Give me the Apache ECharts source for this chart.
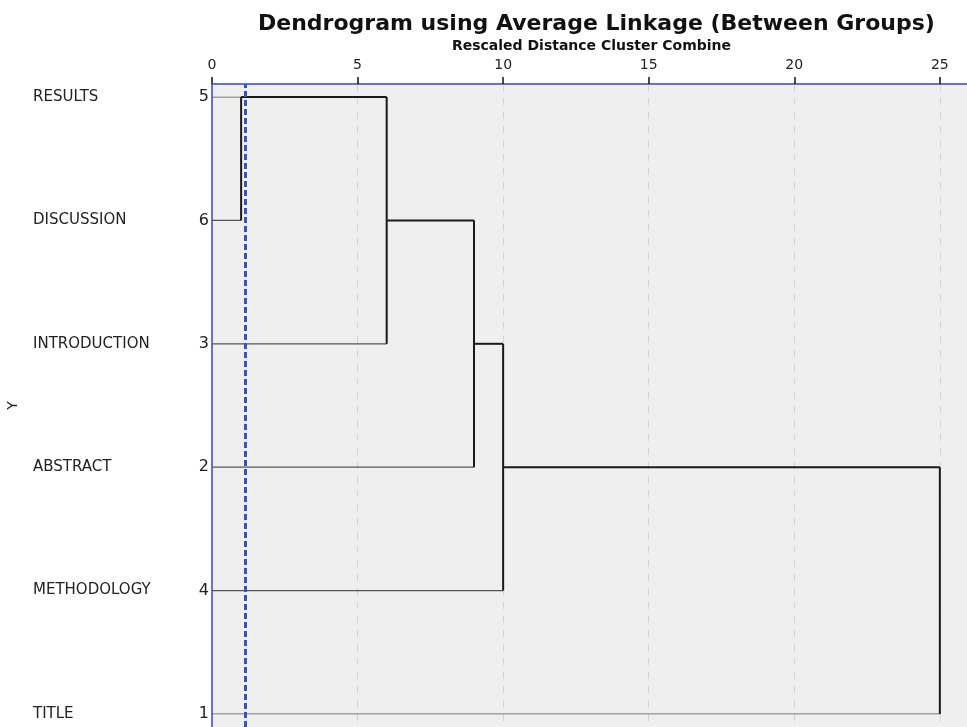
<!DOCTYPE html>
<html>
<head>
<meta charset="utf-8">
<script src="https://cdn.jsdelivr.net/npm/echarts@6/dist/echarts.min.js"></script>
<style>
  html, body { margin: 0; padding: 0; background: #fff; overflow: hidden; }
  #main { width: 967px; height: 727px; }
</style>
</head>
<body>
<div id="main"></div>
<script>
// leaves, top to bottom
const leafNames = ['RESULTS', 'DISCUSSION', 'INTRODUCTION', 'ABSTRACT', 'METHODOLOGY', 'TITLE'];
const leafCases = [5, 6, 3, 2, 4, 1];
// distance where each leaf joins its first cluster
const leafJoin = [1, 1, 6, 9, 10, 25];
// merges: distance, upper row, lower row, row the new cluster leaves from
const mergeDist = [1, 6, 9, 10, 25];
const mergeUpper = [0, 0, 1, 2, 3];
const mergeLower = [1, 2, 3, 4, 5];
const clusterRow = [0, 1, 2, 3];
const xTicks = [0, 5, 10, 15, 20, 25];
const cutDistance = 1.13;

const chart = echarts.init(document.getElementById('main'));
const FONT = 'DejaVu Sans';

function seg(points, leaf) {
  return {
    type: 'line',
    xAxisIndex: 1,
    yAxisIndex: 1,
    data: points,
    symbol: 'none',
    silent: true,
    lineStyle: leaf ? { color: '#555', width: 1.2 } : { color: '#1a1a1a', width: 2 }
  };
}

const series = [];
leafJoin.forEach((d, i) => series.push(seg([[0, i], [d, i]], true)));
mergeDist.forEach((d, i) => series.push(seg([[d, mergeUpper[i]], [d, mergeLower[i]]], false)));
clusterRow.forEach((r, i) => series.push(seg([[mergeDist[i], r], [mergeDist[i + 1], r]], false)));

// cut line across the whole plot
series.push({
  type: 'line',
  xAxisIndex: 0,
  yAxisIndex: 0,
  data: [],
  markLine: {
    silent: true,
    symbol: ['none', 'none'],
    label: { show: false },
    lineStyle: { color: '#3553c4', width: 3, type: [6, 3] },
    data: [{ xAxis: cutDistance }]
  }
});

// plot runs past the right edge of the picture
const xMax = 26.07;

chart.setOption({
  animation: false,
  title: {
    text: 'Dendrogram using Average Linkage (Between Groups)',
    left: 253,
    top: 8,
    textStyle: { fontFamily: FONT, fontSize: 22, fontWeight: 'bold', color: '#111' }
  },
  grid: [
    { left: 212, right: -4, top: 84, bottom: 0, outerBoundsMode: 'none', containLabel: false,
      show: true, backgroundColor: '#efefef', borderWidth: 0 },
    { left: 212, right: -4, top: 97, bottom: 13, outerBoundsMode: 'none', containLabel: false }
  ],
  xAxis: [
    {
      gridIndex: 0,
      type: 'value',
      position: 'top',
      min: 0,
      max: xMax,
      interval: 5,
      name: 'Rescaled Distance Cluster Combine',
      nameLocation: 'middle',
      nameGap: 30,
      nameTextStyle: { fontFamily: FONT, fontSize: 14, fontWeight: 'bold', color: '#111' },
      axisLine: { show: true, onZero: false, lineStyle: { color: '#6671d6', width: 2 } },
      axisTick: { show: true, length: 7, lineStyle: { color: '#111', width: 1.5 } },
      axisLabel: {
        margin: 12,
        fontFamily: FONT,
        fontSize: 14,
        color: '#222',
        formatter: v => (xTicks.indexOf(v) >= 0 ? String(v) : '')
      },
      splitLine: { show: true, lineStyle: { color: '#d2d2d2', width: 1, type: [7, 7] } }
    },
    {
      gridIndex: 1,
      type: 'value',
      min: 0,
      max: xMax,
      show: false
    }
  ],
  yAxis: [
    {
      gridIndex: 0,
      type: 'value',
      min: 0,
      max: 1,
      axisLine: { show: true, onZero: false, lineStyle: { color: '#6671d6', width: 2 } },
      axisTick: { show: false },
      axisLabel: { show: false },
      splitLine: { show: false }
    },
    {
      gridIndex: 1,
      type: 'value',
      inverse: true,
      min: 0,
      max: 5,
      interval: 1,
      name: 'Y',
      nameLocation: 'middle',
      nameRotate: 90,
      nameGap: 192,
      nameTextStyle: { fontFamily: FONT, fontSize: 14, color: '#222' },
      axisLine: { show: false },
      axisTick: { show: false },
      splitLine: { show: false },
      axisLabel: {
        margin: 3,
        formatter: v => '{n|' + leafNames[v] + '}{c|' + leafCases[v] + '}',
        rich: {
          n: { width: 160, align: 'left', fontFamily: FONT, fontSize: 15, color: '#222' },
          c: { width: 16, align: 'right', fontFamily: FONT, fontSize: 16, color: '#222' }
        }
      }
    }
  ],
  series: series
});
</script>
</body>
</html>
